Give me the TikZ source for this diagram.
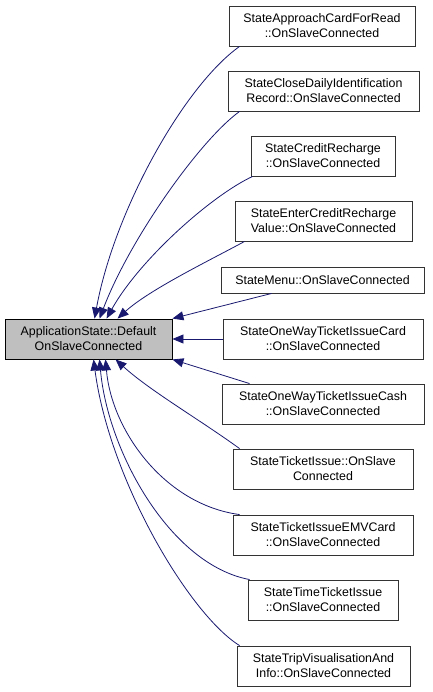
\documentclass[tikz,border=0pt]{standalone}
\usepackage{fontspec}
\setmainfont{Liberation Sans}
\usetikzlibrary{arrows.meta,calc}
\definecolor{edgeblue}{HTML}{191970}
\definecolor{maingray}{HTML}{BFBFBF}
\tikzset{
  box/.style={draw=black!80, line width=0.9pt, fill=white, align=center, inner sep=0pt,
    font=\fontsize{12.4}{15}\selectfont, minimum height=40pt},
  mainbox/.style={box, draw=black, fill=maingray},
  edge/.style={draw=edgeblue, line width=0.8pt, {Triangle[length=11pt,width=9pt,fill=edgeblue]}-},
}
\begin{document}
\begin{tikzpicture}[x=1pt,y=-1pt]
\useasboundingbox (0,0) rectangle (432,692);
\node[mainbox, minimum width=167pt] (main) at (88.5,339) {ApplicationState::Default\\OnSlaveConnected};
\node[box, minimum width=186pt] (b1) at (322,26) {StateApproachCardForRead\\::OnSlaveConnected};
\node[box, minimum width=191pt] (b2) at (323.5,91) {StateCloseDailyIdentification\\Record::OnSlaveConnected};
\node[box, minimum width=144pt] (b3) at (323,156) {StateCreditRecharge\\::OnSlaveConnected};
\node[box, minimum width=177pt] (b4) at (323.5,221) {StateEnterCreditRecharge\\Value::OnSlaveConnected};
\node[box, minimum width=203pt, minimum height=26pt] (b5) at (322.5,280) {StateMenu::OnSlaveConnected};
\node[box, minimum width=200pt] (b6) at (323,339) {StateOneWayTicketIssueCard\\::OnSlaveConnected};
\node[box, minimum width=202pt] (b7) at (323,404) {StateOneWayTicketIssueCash\\::OnSlaveConnected};
\node[box, minimum width=180pt] (b8) at (323,469) {StateTicketIssue::OnSlave\\Connected};
\node[box, minimum width=180pt] (b9) at (323,535) {StateTicketIssueEMVCard\\::OnSlaveConnected};
\node[box, minimum width=150pt] (b10) at (323,600) {StateTimeTicketIssue\\::OnSlaveConnected};
\node[box, minimum width=173pt] (b11) at (323.5,666) {StateTripVisualisationAnd\\Info::OnSlaveConnected};

\draw[edge] ($(main.north west)+(90,0)$) .. controls +(20,-109) and +(-55,39) .. ($(b1.south west)+(11,0)$);
\draw[edge] ($(main.north west)+(95,0)$) .. controls +(30,-79) and +(-40,29) .. ($(b2.south west)+(12,0)$);
\draw[edge] ($(main.north west)+(102,0)$) .. controls +(33,-59) and +(-41,19) .. ($(b3.south west)+(2,0)$);
\draw[edge] ($(main.north west)+(113,0)$) .. controls +(32,-29) and +(-35,19) .. ($(b4.south west)+(10,0)$);
\draw[edge] (main.north east) -- ($(b5.south west)+(51,0)$);
\draw[edge] (main.east) -- (b6.west);
\draw[edge] (main.south east) -- ($(b7.north west)+(28,0)$);
\draw[edge] ($(main.south west)+(111,0)$) .. controls +(34,31) and +(-40,-29) .. ($(b8.north west)+(7,0)$);
\draw[edge] ($(main.south west)+(101,0)$) .. controls +(6,71) and +(-75,-10) .. ($(b9.north west)+(7,0)$);
\draw[edge] ($(main.south west)+(95,0)$) .. controls +(8,91) and +(-80,-15) .. ($(b10.north west)+(2,0)$);
\draw[edge] ($(main.south west)+(89,0)$) .. controls +(16,121) and +(-50,-31) .. ($(b11.north west)+(3,0)$);
\end{tikzpicture}
\end{document}
